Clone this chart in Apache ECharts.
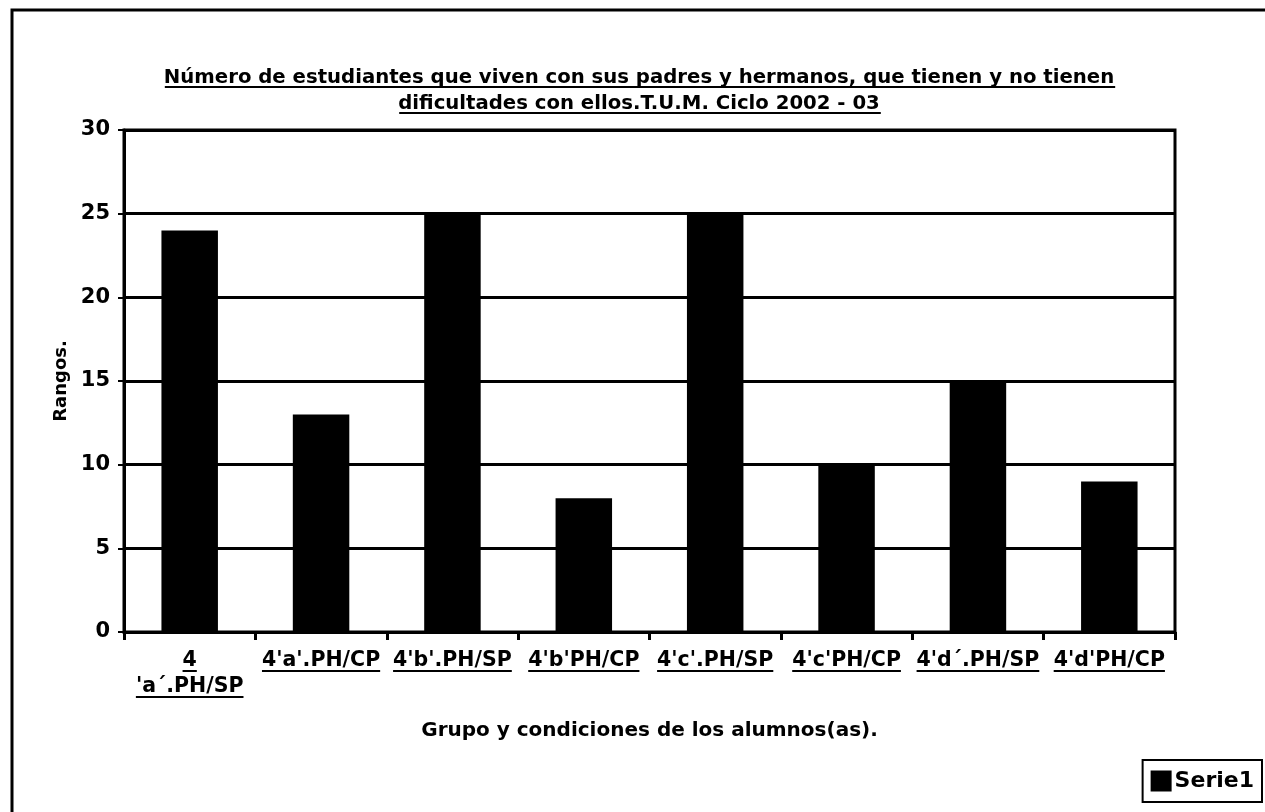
<!DOCTYPE html>
<html>
<head>
<meta charset="utf-8">
<script src="https://cdn.jsdelivr.net/npm/echarts@6/dist/echarts.min.js"></script>
<style>
    html, body { margin: 0; padding: 0; background: #fff; }
    #chart { width: 1265px; height: 812px; }
</style>
</head>
<body>
<div id="chart"></div>
<script>
var categories = ["4 'a´.PH/SP", "4'a'.PH/CP", "4'b'.PH/SP", "4'b'PH/CP", "4'c'.PH/SP", "4'c'PH/CP", "4'd´.PH/SP", "4'd'PH/CP"];
var serie1 = [24, 13, 25, 8, 25, 10, 15, 9];
var yTicks = [0, 5, 10, 15, 20, 25, 30];

var titleLine1 = "Número de estudiantes que viven con sus padres y hermanos, que tienen y no tienen";
var titleLine2 = "dificultades con ellos.T.U.M. Ciclo 2002 - 03";
var font = "'DejaVu Sans', Arial, sans-serif";

var TITLE_SIZE = 19.7, LABEL_SIZE = 20.5;
var TITLE_X = 640;

function textWidth(str, size) {
    var ctx = document.createElement("canvas").getContext("2d");
    ctx.font = "bold " + size + "px " + font;
    return ctx.measureText(str).width;
}

var chart = echarts.init(document.getElementById("chart"));
chart.setOption({
    backgroundColor: "#fff",
    textStyle: { fontFamily: font, color: "#000" },
    title: {
        text: titleLine1 + "\n" + titleLine2,
        left: TITLE_X - 6,
        top: 60,
        textAlign: "center",
        textStyle: {
            fontFamily: font,
            fontSize: TITLE_SIZE,
            fontWeight: "bold",
            color: "#000",
            lineHeight: 26
        }
    },
    legend: {
        right: 3,
        bottom: 10,
        data: ["Serie1"],
        icon: "rect",
        itemWidth: 21,
        itemHeight: 21,
        itemGap: 4,
        padding: [10, 8, 10, 8],
        borderColor: "#000",
        borderWidth: 2,
        textStyle: { fontFamily: font, fontSize: 22, fontWeight: "bold", color: "#000", padding: [0, 0, 0, -2] }
    },
    grid: {
        left: 124,
        top: 130,
        right: 90,
        bottom: 180,
        show: true,
        borderColor: "#000",
        borderWidth: 3,
        backgroundColor: "#fff"
    },
    xAxis: {
        type: "category",
        data: categories,
        name: "Grupo y condiciones de los alumnos(as).",
        nameLocation: "middle",
        nameGap: 89,
        nameTextStyle: { fontFamily: font, fontSize: 20, fontWeight: "bold", color: "#000" },
        axisLine: { lineStyle: { color: "#000", width: 3 } },
        axisTick: { show: true, length: 8, lineStyle: { color: "#000", width: 3 } },
        axisLabel: {
            interval: 0,
            margin: 16,
            fontFamily: font,
            fontSize: LABEL_SIZE,
            fontWeight: "bold",
            color: "#000",
            lineHeight: 26,
            formatter: function (v) { return v.replace(" ", "\n"); }
        }
    },
    yAxis: {
        type: "value",
        min: 0,
        max: 30,
        interval: 5,
        name: "Rangos.",
        nameLocation: "middle",
        nameRotate: 90,
        nameGap: 44,
        nameTextStyle: { fontFamily: font, fontSize: 18, fontWeight: "bold", color: "#000" },
        axisLine: { show: true, lineStyle: { color: "#000", width: 3 } },
        axisTick: { show: true, length: 6, lineStyle: { color: "#000", width: 2 } },
        axisLabel: {
            margin: 14,
            fontFamily: font,
            fontSize: 21,
            fontWeight: "bold",
            color: "#000",
            customValues: yTicks
        },
        splitLine: { show: true, lineStyle: { color: "#000", width: 3 } }
    },
    series: [{
        name: "Serie1",
        type: "bar",
        data: serie1,
        barWidth: "43%",
        itemStyle: { color: "#000" }
    }]
});

// frame + underlines (title and category labels are underlined in the original)
var deco = [{
    type: "rect",
    shape: { x: 12, y: 10, width: 1300, height: 900 },
    style: { fill: null, stroke: "#000", lineWidth: 3 }
}];
function underline(cx, y, w) {
    deco.push({
        type: "line",
        shape: { x1: cx - w / 2, y1: y, x2: cx + w / 2, y2: y },
        style: { stroke: "#000", lineWidth: 2 }
    });
}
underline(TITLE_X, 87, textWidth(titleLine1, TITLE_SIZE));
underline(TITLE_X, 113, textWidth(titleLine2, TITLE_SIZE));
categories.forEach(function (c, i) {
    var cx = chart.convertToPixel({ xAxisIndex: 0 }, i);
    c.replace(" ", "\n").split("\n").forEach(function (part, k) {
        underline(cx, 671 + k * 26, textWidth(part, LABEL_SIZE));
    });
});
chart.setOption({ graphic: deco });
</script>
</body>
</html>
